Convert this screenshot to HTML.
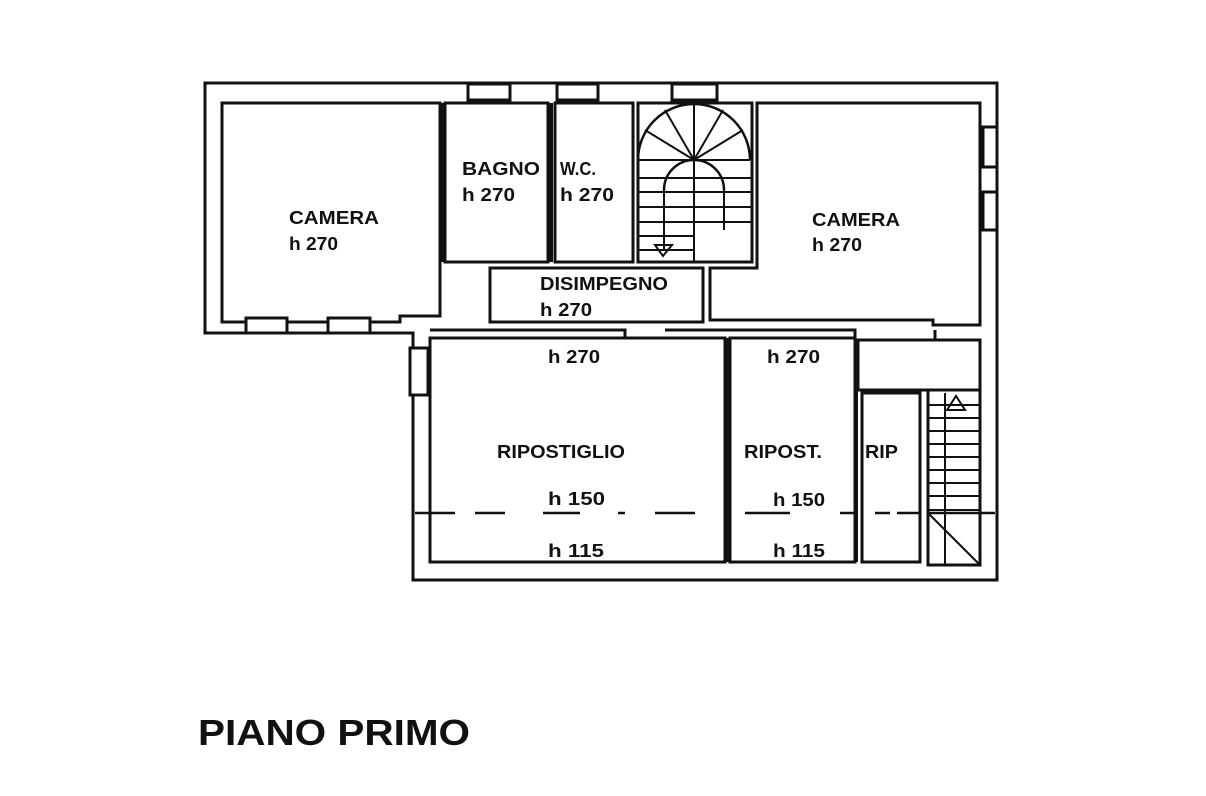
<!DOCTYPE html>
<html><head><meta charset="utf-8"><style>
html,body{margin:0;padding:0;background:#fff;}
svg{display:block}
text{font-family:"Liberation Sans",sans-serif;font-weight:bold;fill:#111}
</style></head><body>
<svg width="1206" height="796" viewBox="0 0 1206 796" xmlns="http://www.w3.org/2000/svg">
<g fill="none" stroke="#111" stroke-width="3">
<path d="M205,83 H997 V580 H413 V333 H205 Z"/>
<path d="M222,103 H440 V316 H400 V322 H222 Z"/>
<path d="M445,103 H548 V262 H445 Z"/>
<path d="M555,103 H633 V262 H555 Z"/>
<path d="M638,103 H752 V262 H638 Z"/>
<path d="M757,103 H980 V325 H933 V320 H710 V268 H757 Z"/>
<path d="M490,268 H703 V322 H490 Z"/>
<path d="M430,330 H625 V338"/>
<path d="M665,330 H855 V338"/>
<path d="M935,330 V340"/>
<path d="M430,338 H725 V562 H430 Z"/>
<path d="M730,338 H855 V562 H730 Z"/>
<path d="M858,340 H980 V390 H858 Z"/>
<path d="M862,393 H920 V562 H862 Z"/>
<path d="M928,390 H980 V565 H928 Z"/>
</g>
<g fill="none" stroke="#111" stroke-width="4">
<line x1="728" y1="338" x2="728" y2="562"/>
<line x1="856" y1="390" x2="856" y2="562"/>
<line x1="551" y1="103" x2="551" y2="262"/>
<line x1="442" y1="103" x2="442" y2="262"/>
</g>
<g fill="#fff" stroke="#111" stroke-width="3">
<rect x="468" y="84" width="42" height="16"/>
<rect x="557" y="84" width="41" height="16"/>
<rect x="672" y="84" width="45" height="16"/>
<rect x="983" y="127" width="14" height="40"/>
<rect x="983" y="192" width="14" height="38"/>
<rect x="246" y="318" width="41" height="15"/>
<rect x="328" y="318" width="42" height="15"/>
<rect x="410" y="348" width="18" height="47"/>
</g>
<g fill="none" stroke="#111" stroke-width="2.5">
<path d="M638,160 A56,56 0 0 1 750,160"/>
<path d="M664,190 A30,30 0 0 1 724,190"/>
<g stroke-width="2">
<line x1="694" y1="160" x2="694" y2="104"/>
<line x1="694" y1="160" x2="665" y2="110"/>
<line x1="694" y1="160" x2="723" y2="110"/>
<line x1="694" y1="160" x2="645" y2="130"/>
<line x1="694" y1="160" x2="743" y2="130"/>
<line x1="694" y1="160" x2="638" y2="160"/>
<line x1="694" y1="160" x2="750" y2="160"/>
<line x1="638" y1="178" x2="752" y2="178"/>
<line x1="638" y1="192" x2="752" y2="192"/>
<line x1="638" y1="207" x2="752" y2="207"/>
<line x1="638" y1="222" x2="752" y2="222"/>
<line x1="638" y1="236" x2="694" y2="236"/>
<line x1="638" y1="250" x2="694" y2="250"/>
<line x1="664" y1="190" x2="664" y2="250"/>
<line x1="724" y1="190" x2="724" y2="230"/>
<line x1="694" y1="160" x2="694" y2="262"/>
<path d="M655,245 H672 L663,256 Z"/>
</g>
</g>
<g fill="none" stroke="#111" stroke-width="2">
<line x1="945" y1="393" x2="945" y2="565"/>
<line x1="928" y1="405" x2="980" y2="405"/>
<line x1="928" y1="418" x2="980" y2="418"/>
<line x1="928" y1="431" x2="980" y2="431"/>
<line x1="928" y1="444" x2="980" y2="444"/>
<line x1="928" y1="457" x2="980" y2="457"/>
<line x1="928" y1="470" x2="980" y2="470"/>
<line x1="928" y1="483" x2="980" y2="483"/>
<line x1="928" y1="496" x2="980" y2="496"/>
<line x1="928" y1="510" x2="980" y2="510"/>
<line x1="928" y1="513" x2="980" y2="565"/>
<path d="M947,410 L956,396 L965,410 Z"/>
</g>
<g stroke="#111" stroke-width="2.5">
<line x1="415" y1="513" x2="455" y2="513"/>
<line x1="475" y1="513" x2="505" y2="513"/>
<line x1="543" y1="513" x2="580" y2="513"/>
<line x1="618" y1="513" x2="625" y2="513"/>
<line x1="655" y1="513" x2="695" y2="513"/>
<line x1="745" y1="513" x2="790" y2="513"/>
<line x1="840" y1="513" x2="855" y2="513"/>
<line x1="875" y1="513" x2="890" y2="513"/>
<line x1="897" y1="513" x2="920" y2="513"/>
<line x1="928" y1="513" x2="995" y2="513"/>
</g>
<g font-size="18" lengthAdjust="spacingAndGlyphs">
<text x="289" y="224" textLength="90" lengthAdjust="spacingAndGlyphs">CAMERA</text>
<text x="289" y="250" textLength="49" lengthAdjust="spacingAndGlyphs">h 270</text>
<text x="462" y="175" textLength="78" lengthAdjust="spacingAndGlyphs">BAGNO</text>
<text x="462" y="201" textLength="53" lengthAdjust="spacingAndGlyphs">h 270</text>
<text x="560" y="175" textLength="36" lengthAdjust="spacingAndGlyphs">W.C.</text>
<text x="560" y="201" textLength="54" lengthAdjust="spacingAndGlyphs">h 270</text>
<text x="812" y="226" textLength="88" lengthAdjust="spacingAndGlyphs">CAMERA</text>
<text x="812" y="251" textLength="50" lengthAdjust="spacingAndGlyphs">h 270</text>
<text x="540" y="290" textLength="128" lengthAdjust="spacingAndGlyphs">DISIMPEGNO</text>
<text x="540" y="316" textLength="52" lengthAdjust="spacingAndGlyphs">h 270</text>
<text x="548" y="363" textLength="52" lengthAdjust="spacingAndGlyphs">h 270</text>
<text x="767" y="363" textLength="53" lengthAdjust="spacingAndGlyphs">h 270</text>
<text x="497" y="458" textLength="128" lengthAdjust="spacingAndGlyphs">RIPOSTIGLIO</text>
<text x="744" y="458" textLength="78" lengthAdjust="spacingAndGlyphs">RIPOST.</text>
<text x="865" y="458" textLength="33" lengthAdjust="spacingAndGlyphs">RIP</text>
<text x="548" y="505" textLength="57" lengthAdjust="spacingAndGlyphs">h 150</text>
<text x="773" y="506" textLength="52" lengthAdjust="spacingAndGlyphs">h 150</text>
<text x="548" y="557" textLength="56" lengthAdjust="spacingAndGlyphs">h 115</text>
<text x="773" y="557" textLength="52" lengthAdjust="spacingAndGlyphs">h 115</text>
</g>
<text x="198" y="745" font-size="36" textLength="272" lengthAdjust="spacingAndGlyphs">PIANO PRIMO</text>
</svg>
</body></html>
